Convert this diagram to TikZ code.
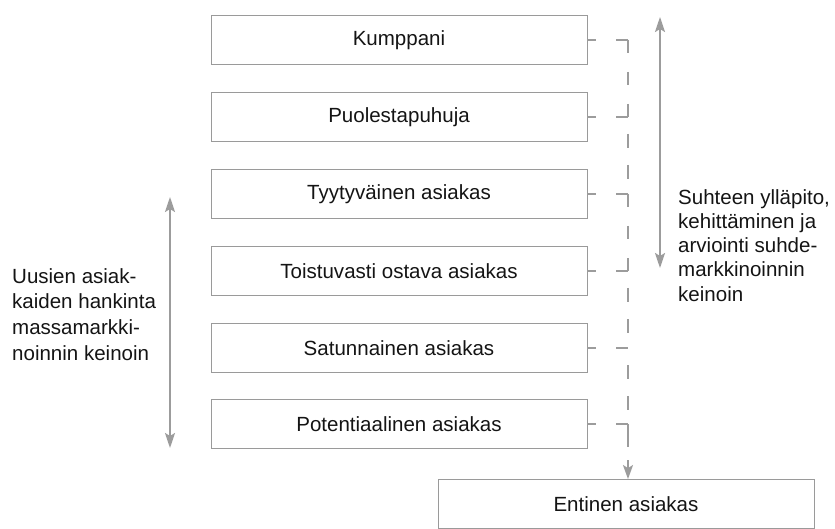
\documentclass[tikz,border=0pt]{standalone}
\usepackage{fontspec}
\setmainfont{Liberation Sans}
\usetikzlibrary{arrows.meta}
\definecolor{ink}{HTML}{141414}
\definecolor{boxgray}{HTML}{9A9A9A}
\definecolor{linegray}{HTML}{9C9C9C}
\begin{document}
\begin{tikzpicture}[x=1bp,y=-1bp,
  stage/.style={draw=boxgray, line width=0.9bp, minimum width=376bp,
    minimum height=49bp, inner sep=0pt, text=ink,
    font=\fontsize{20.6}{24}\selectfont},
  sidetext/.style={text=ink, align=left, inner sep=0pt},
  hdash/.style={draw=linegray, line width=1.6bp,
    dash pattern=on 9bp off 20bp on 13bp off 10bp},
  % vertical pieces: dash at both ends
  vboth/.style={draw=linegray, line width=1.6bp,
    dash pattern=on 13bp off 19bp},
  % vertical pieces: gap at both ends
  vgap/.style={draw=linegray, line width=1.6bp,
    dash pattern=on 14bp off 17bp, dash phase=14bp},
  span/.style={draw=linegray, line width=2bp,
    {Stealth[length=15bp,width=10bp,inset=3bp]}-{Stealth[length=15bp,width=10bp,inset=3bp]}}
]
\useasboundingbox (0,0) rectangle (835,529);

% customer ladder
\node[stage] (kump)  at (399,40)  {Kumppani};
\node[stage] (puol)  at (399,117) {Puolestapuhuja};
\node[stage] (tyyt)  at (399,194) {Tyytyväinen asiakas};
\node[stage] (toist) at (399,271) {Toistuvasti ostava asiakas};
\node[stage] (satun) at (399,348) {Satunnainen asiakas};
\node[stage] (pot)   at (399,424) {Potentiaalinen asiakas};
\node[stage] (ent)   at (626,504) {Entinen asiakas};

% dashed exit line on the right
\coordinate (sp) at (628,0);
\foreach \n in {kump,puol,tyyt,toist,satun,pot}
  \draw[hdash] (\n.east) -- (\n.east -| sp);
\draw[vboth] (kump.east -| sp)  -- (puol.east -| sp);
\draw[vgap]  (puol.east -| sp)  -- (tyyt.east -| sp);
\draw[vboth] (tyyt.east -| sp)  -- (toist.east -| sp);
\draw[vgap]  (toist.east -| sp) -- (satun.east -| sp);
\draw[vgap]  (satun.east -| sp) -- (pot.east -| sp);
\draw[draw=linegray, line width=1.6bp, dash pattern=on 23bp off 13bp,
  -{Stealth[length=14bp,width=10bp,inset=3bp]}]
  (pot.east -| sp) -- (ent.north -| sp);

% range arrows
\coordinate (ltop) at (170,197);
\coordinate (lbot) at (170,448);
\draw[span] (ltop) -- (lbot);
\coordinate (rtop) at (660,17);
\coordinate (rbot) at (660,268);
\draw[span] (rtop) -- (rbot);

% side labels
\node[sidetext, anchor=north west, font=\fontsize{20.6}{26}\selectfont]
  (newc) at (12,268)
  {Uusien asiak-\\kaiden hankinta\\massamarkki-\\noinnin keinoin};
\node[sidetext, anchor=north west, font=\fontsize{20.6}{24.4}\selectfont]
  (keep) at (678,189)
  {Suhteen ylläpito,\\kehittäminen ja\\arviointi suhde-\\markkinoinnin\\keinoin};
\end{tikzpicture}
\end{document}
